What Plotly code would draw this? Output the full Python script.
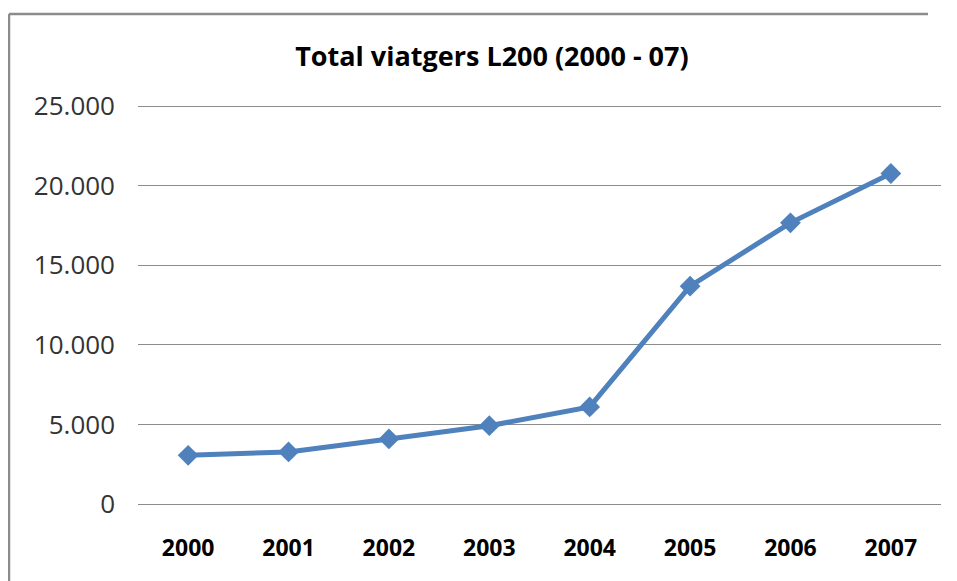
import plotly.graph_objects as go

years = ['2000', '2001', '2002', '2003', '2004', '2005', '2006', '2007']
viatgers = [3060, 3270, 4090, 4920, 6100, 13690, 17670, 20770]
y_ticks = [0, 5000, 10000, 15000, 20000, 25000]

# page body adds ~8px offset, so compensate
W, H = 949, 573
ml, mr, mt, mb = 130, 16, 95, 77
pw, ph = W - ml - mr, H - mt - mb

fig = go.Figure(go.Scatter(
    x=years,
    y=viatgers,
    mode='lines+markers',
    line=dict(color='#4F81BD', width=5),
    marker=dict(symbol='diamond', size=16, color='#4F81BD'),
))

# chart border (Excel style): only top and left edges are in view
bx0 = (1 - ml) / pw
by1 = (mt + ph - 6) / ph
border = dict(color='#8c8c8c', width=2.5)
fig.add_shape(type='line', xref='paper', yref='paper', x0=bx0, x1=(920 - ml) / pw,
              y0=by1, y1=by1, line=border)
fig.add_shape(type='line', xref='paper', yref='paper', x0=bx0, x1=bx0,
              y0=-(H - mt - ph) / ph, y1=by1, line=border)

fig.update_layout(
    width=W, height=H,
    margin=dict(l=ml, r=mr, t=mt, b=mb),
    plot_bgcolor='white', paper_bgcolor='white',
    showlegend=False,
    separators=',.',
    font=dict(family='Open Sans', color='#222222'),
    title=dict(text='<b>Total viatgers L200 (2000 - 07)</b>', x=488 / 957, xanchor='center',
               y=1 - 49 / H, yanchor='middle', font=dict(size=27, color='black')),
    xaxis=dict(
        type='category', showgrid=False, showline=False, ticks='',
        tickfont=dict(size=23, color='black', weight='bold'), ticklabelstandoff=28,
    ),
    yaxis=dict(
        range=[0, 25200], tickvals=y_ticks, tickformat=',d',
        showgrid=True, gridcolor='#8c8c8c', gridwidth=1.2,
        zeroline=True, zerolinecolor='#8c8c8c', zerolinewidth=1.2,
        showline=False, ticks='', tickfont=dict(size=26, color='#333333'),
        ticklabelstandoff=22,
    ),
)

fig.write_html('out.html')
